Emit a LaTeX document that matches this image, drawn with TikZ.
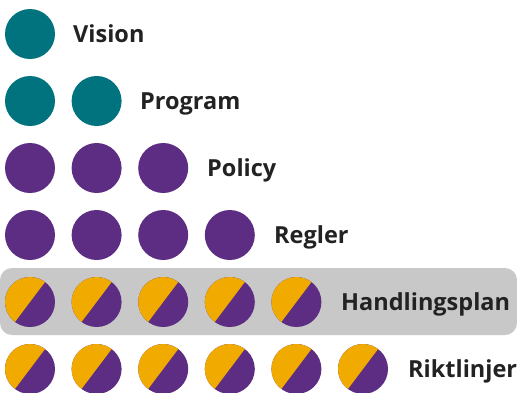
\documentclass[tikz,border=0pt]{standalone}
\usepackage{fontspec}
\setmainfont{Open Sans}
\definecolor{teal}{RGB}{0,115,126}
\definecolor{plum}{RGB}{92,45,130}
\definecolor{gold}{RGB}{240,170,0}
\definecolor{band}{RGB}{200,200,200}
\definecolor{ink}{RGB}{34,34,34}
\tikzset{
  dot/.style={circle,minimum size=50pt,inner sep=0pt},
  full/.style={dot,fill=teal},
  mid/.style={dot,fill=plum},
  half/.style={dot,fill=plum,path picture={
      \fill[gold] (path picture bounding box.center) ++(53:40pt) -- ++(143:40pt)
        -- ++(233:80pt) -- ++(-37:40pt) -- cycle;}},
  word/.style={anchor=base west,inner sep=0pt,text=ink,
    font=\fontsize{23.5pt}{27pt}\selectfont\bfseries}
}
\begin{document}
\begin{tikzpicture}[x=1pt,y=-1pt]
\useasboundingbox (0,0) rectangle (517,392);

\fill[band,rounded corners=12pt] (0,268) rectangle (517,335);

\node[full](vision1) at (30,34) {};
\node[word](vision) at (73,42) {Vision};

\node[full](program1) at (30,101) {};
\node[full](program2) at (96.6,101) {};
\node[word](program) at (140,109) {Program};

\node[mid](policy1) at (30,168) {};
\node[mid](policy2) at (96.6,168) {};
\node[mid](policy3) at (163.2,168) {};
\node[word](policy) at (207,176) {Policy};

\node[mid](regler1) at (30,235) {};
\node[mid](regler2) at (96.6,235) {};
\node[mid](regler3) at (163.2,235) {};
\node[mid](regler4) at (229.8,235) {};
\node[word](regler) at (274,243) {Regler};

\node[half](plan1) at (30,302) {};
\node[half](plan2) at (96.6,302) {};
\node[half](plan3) at (163.2,302) {};
\node[half](plan4) at (229.8,302) {};
\node[half](plan5) at (296.4,302) {};
\node[word](plan) at (341,310) {Handlingsplan};

\node[half](rikt1) at (30,369) {};
\node[half](rikt2) at (96.6,369) {};
\node[half](rikt3) at (163.2,369) {};
\node[half](rikt4) at (229.8,369) {};
\node[half](rikt5) at (296.4,369) {};
\node[half](rikt6) at (363,369) {};
\node[word](rikt) at (408,377) {Riktlinjer};

\end{tikzpicture}
\end{document}
